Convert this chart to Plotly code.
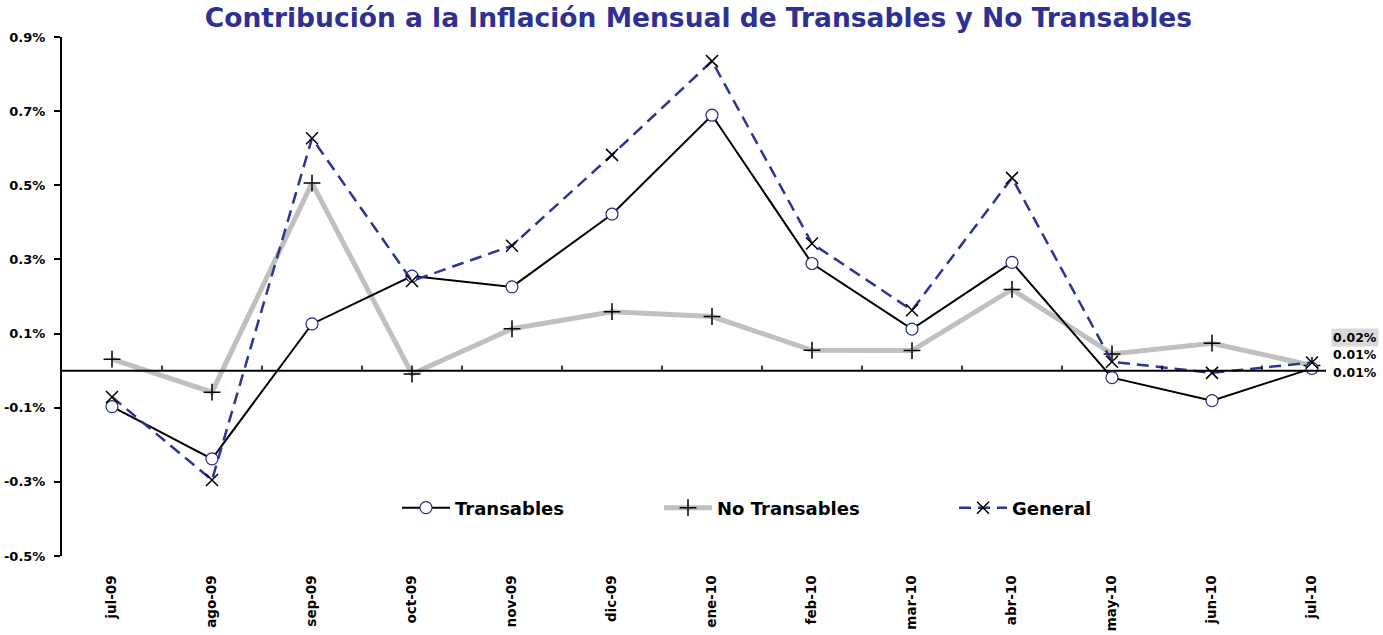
import plotly.graph_objects as go

months = ["jul-09", "ago-09", "sep-09", "oct-09", "nov-09", "dic-09", "ene-10",
          "feb-10", "mar-10", "abr-10", "may-10", "jun-10", "jul-10"]
transables = [-0.097, -0.238, 0.126, 0.255, 0.226, 0.422, 0.689,
              0.289, 0.112, 0.292, -0.019, -0.081, 0.006]
no_transables = [0.031, -0.058, 0.506, -0.009, 0.113, 0.159, 0.146,
                 0.055, 0.054, 0.219, 0.045, 0.074, 0.014]
general = [-0.071, -0.295, 0.627, 0.242, 0.337, 0.582, 0.835,
           0.343, 0.163, 0.520, 0.024, -0.006, 0.022]
y_ticks = [-0.5, -0.3, -0.1, 0.1, 0.3, 0.5, 0.7, 0.9]
y_tick_labels = [f"{v:.1f}%" for v in y_ticks]

title = "Contribución a la Inflación Mensual de Transables y No Transables"
FONT = "'DejaVu Sans', Arial, sans-serif"
NAVY = "#2E3192"

x = list(range(len(months)))

fig = go.Figure()

fig.add_trace(go.Scatter(
    x=x, y=no_transables, name="No Transables", mode="lines+markers",
    line=dict(color="#C0C0C0", width=5),
    marker=dict(symbol="cross-thin-open", size=12, color="black",
                line=dict(color="black", width=1.5)),
    legend="legend2", cliponaxis=False))

fig.add_trace(go.Scatter(
    x=x, y=transables, name="Transables", mode="lines+markers",
    line=dict(color="black", width=2),
    marker=dict(symbol="circle", size=12, color="white",
                line=dict(color="#1F2A8C", width=1.2)),
    legend="legend", cliponaxis=False))

fig.add_trace(go.Scatter(
    x=x, y=general, name="General", mode="lines+markers",
    line=dict(color="#2B3595", width=2.5, dash="12px,7px"),
    marker=dict(symbol="x-thin-open", size=12, color="black",
                line=dict(color="black", width=1.5)),
    legend="legend3", cliponaxis=False))

# zero line (category axis crossing at 0) with boundary tick marks
fig.add_shape(type="line", xref="x", yref="y", x0=-0.5, x1=12.14, y0=0, y1=0,
              line=dict(color="black", width=2))
for i in range(len(months) - 1):
    fig.add_shape(type="line", xref="x", yref="y", x0=i + 0.5, x1=i + 0.5,
                  y0=0, y1=0.014, line=dict(color="black", width=1.5))

# end labels
last = len(months) - 1
labels = [(general[-1], 25, "#D9D9D9"), (no_transables[-1], 11, "rgba(0,0,0,0)"),
          (transables[-1], -4, "rgba(0,0,0,0)")]
for val, shift, bg in labels:
    fig.add_annotation(x=last, y=val, xref="x", yref="y",
                       text=f"{val:.2f}%", showarrow=False,
                       xanchor="left", yanchor="middle", xshift=19, yshift=shift,
                       bgcolor=bg, borderpad=1,
                       font=dict(family=FONT, size=12.5, color="black", weight="bold"))

legend_common = dict(orientation="h", yanchor="middle", y=0.0925, xanchor="left",
                     bgcolor="rgba(0,0,0,0)",
                     font=dict(family=FONT, size=18, color="black", weight="bold"),
                     itemwidth=48)

fig.update_layout(
    width=1383, height=635,
    margin=dict(l=62, r=21, t=37, b=79),
    paper_bgcolor="white", plot_bgcolor="white",
    showlegend=True,
    title=dict(text=title, x=0.505, xanchor="center", y=0.972, yanchor="middle",
               font=dict(family=FONT, size=26.5, color=NAVY, weight="bold")),
    xaxis=dict(range=[-0.5, 12.5], tickvals=x, ticktext=months, tickangle=-90,
               showgrid=False, zeroline=False, showline=False, automargin=False,
               ticks="outside", ticklen=13, tickcolor="rgba(0,0,0,0)",
               tickfont=dict(family=FONT, size=13.5, color="black", weight="bold")),
    yaxis=dict(range=[-0.5, 0.9], tickvals=y_ticks, ticktext=y_tick_labels,
               showgrid=False, zeroline=False, showline=True, linecolor="black",
               linewidth=2, ticks="outside", ticklen=6, tickwidth=1.5, tickcolor="black",
               automargin=False, ticklabelstandoff=6,
               tickfont=dict(family=FONT, size=13, color="black", weight="bold")),
    legend=dict(legend_common, x=(397 - 62) / 1300),
    legend2=dict(legend_common, x=(659 - 62) / 1300),
    legend3=dict(legend_common, x=(954 - 62) / 1300),
)

fig.write_html("out.html", config={"displayModeBar": False},
               post_script="document.body.style.margin='0';")
